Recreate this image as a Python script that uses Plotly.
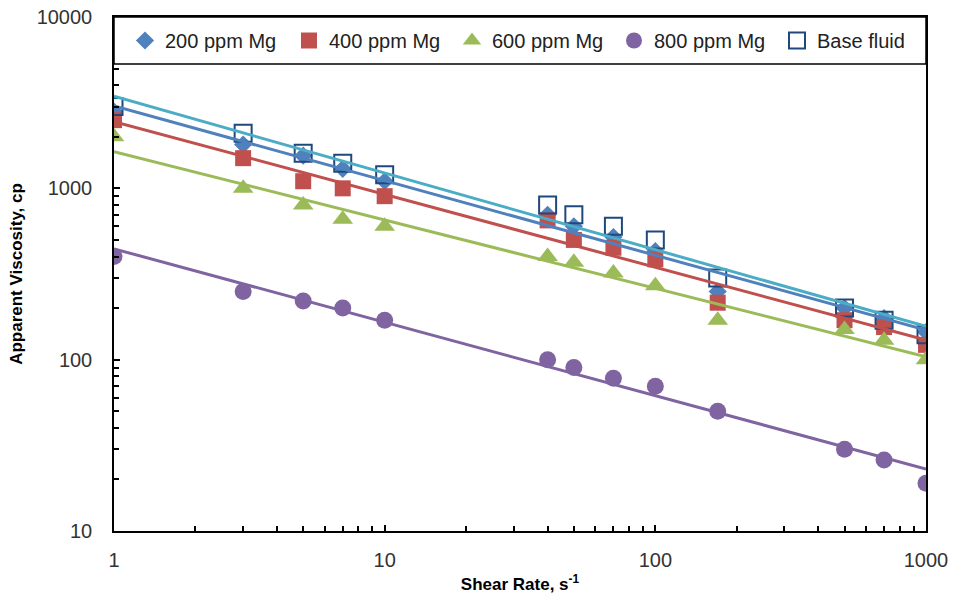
import numpy as np
import plotly.graph_objects as go

shear_rate = [1, 3, 5, 7, 10, 40, 50, 70, 100, 170, 500, 700, 1000]

mg200 = [2800, 1800, 1550, 1300, 1100, 700, 600, 520, 430, 250, 200, 175, 145]
mg400 = [2500, 1500, 1100, 1000, 900, 650, 500, 450, 385, 215, 170, 155, 122]
mg600 = [2000, 1000, 800, 660, 600, 400, 370, 320, 270, 170, 150, 130, 100]
mg800 = [400, 250, 220, 200, 170, 100, 90, 78, 70, 50, 30, 26, 19]
base = [3000, 2100, 1600, 1400, 1200, 800, 700, 600, 500, 300, 200, 170, 140]

x_ticks = [1, 10, 100, 1000]
x_ticktext = ["1", "10", "100", "1000"]
y_ticks = [10, 100, 1000, 10000]
y_ticktext = ["10", "100", "1000", "10000"]

series = [
    ("200 ppm Mg", mg200, dict(symbol="diamond", size=14, color="#4F81BD"), "#4F81BD"),
    ("400 ppm Mg", mg400, dict(symbol="square", size=16, color="#C0504D"), "#C0504D"),
    ("600 ppm Mg", mg600, dict(symbol="triangle-up", size=18, color="#9BBB59"), "#9BBB59"),
    ("800 ppm Mg", mg800, dict(symbol="circle", size=17, color="#8064A2"), "#8064A2"),
    ("Base fluid", base, dict(symbol="square-open", size=17, color="#1F497D",
                              line=dict(width=2, color="#1F497D")), "#4BACC6"),
]

L, R, T, B = 114, 29, 17, 67
PW = 955 - L - R
PH = 598 - T - B

fig = go.Figure()

legend_names = ["legend", "legend2", "legend3", "legend4", "legend5"]
legend_px = [125, 289, 452, 614, 777]
legend_font = dict(family="Liberation Sans, Arial, sans-serif", size=20, color="#222222")

for i, (name, vals, mk, _) in enumerate(series):
    fig.add_trace(go.Scatter(x=shear_rate, y=vals, mode="markers", name=name,
                             marker=mk, showlegend=True, legend=legend_names[i]))

# power-law trendlines (least squares in log-log space), drawn over markers
xs = np.array(shear_rate, dtype=float)
for name, vals, _, lc in series:
    b, a = np.polyfit(np.log10(xs), np.log10(np.array(vals, dtype=float)), 1)
    xl = np.array([xs.min(), xs.max()])
    yl = 10 ** (a + b * np.log10(xl))
    fig.add_trace(go.Scatter(x=xl, y=yl, mode="lines", line=dict(color=lc, width=3),
                             showlegend=False, hoverinfo="skip"))

tick_font = dict(family="Liberation Sans, Arial, sans-serif", size=20, color="#333333")
title_font = dict(family="Liberation Sans, Arial, sans-serif", size=17, color="black")

legends = {}
for i, ln in enumerate(legend_names):
    legends[ln] = dict(orientation="h", x=(legend_px[i] - L) / PW, xanchor="left",
                       y=1 - (40.5 - T) / PH, yanchor="middle", font=legend_font,
                       bgcolor="rgba(0,0,0,0)", borderwidth=0)

fig.update_layout(
    width=955, height=598,
    margin=dict(l=L, r=R, t=T, b=B),
    paper_bgcolor="white", plot_bgcolor="white",
    showlegend=True,
    shapes=[dict(type="rect", xref="paper", yref="paper", x0=0, x1=1,
                 y0=1 - (64 - T) / PH, y1=1, fillcolor="white",
                 line=dict(color="black", width=1.5), layer="above")],
    **legends,
)

fig.update_xaxes(type="log", range=[0, 3], showgrid=False, zeroline=False, automargin=False,
                 showline=True, linecolor="black", linewidth=1.5, mirror=True,
                 tickmode="array", tickvals=x_ticks, ticktext=x_ticktext,
                 ticks="inside", ticklen=6, tickwidth=1.5, tickcolor="black",
                 minor=dict(ticks="inside", ticklen=5, tickwidth=1.5, tickcolor="black",
                            dtick="D1", showgrid=False),
                 tickfont=tick_font, ticklabelstandoff=10,
                 title=dict(text="<b>Shear Rate, s<sup>-1</sup></b>", font=title_font,
                            standoff=8))

fig.update_yaxes(type="log", range=[1, 4], showgrid=False, zeroline=False, automargin=False,
                 showline=True, linecolor="black", linewidth=1.5, mirror=True,
                 tickmode="array", tickvals=y_ticks, ticktext=y_ticktext,
                 ticks="inside", ticklen=6, tickwidth=1.5, tickcolor="black",
                 minor=dict(ticks="inside", ticklen=5, tickwidth=1.5, tickcolor="black",
                            dtick="D1", showgrid=False),
                 tickfont=tick_font, ticklabelstandoff=16,
                 title=dict(text="<b>Apparent Viscosity, cp</b>", font=title_font,
                            standoff=10))

fig.write_html("out.html")
